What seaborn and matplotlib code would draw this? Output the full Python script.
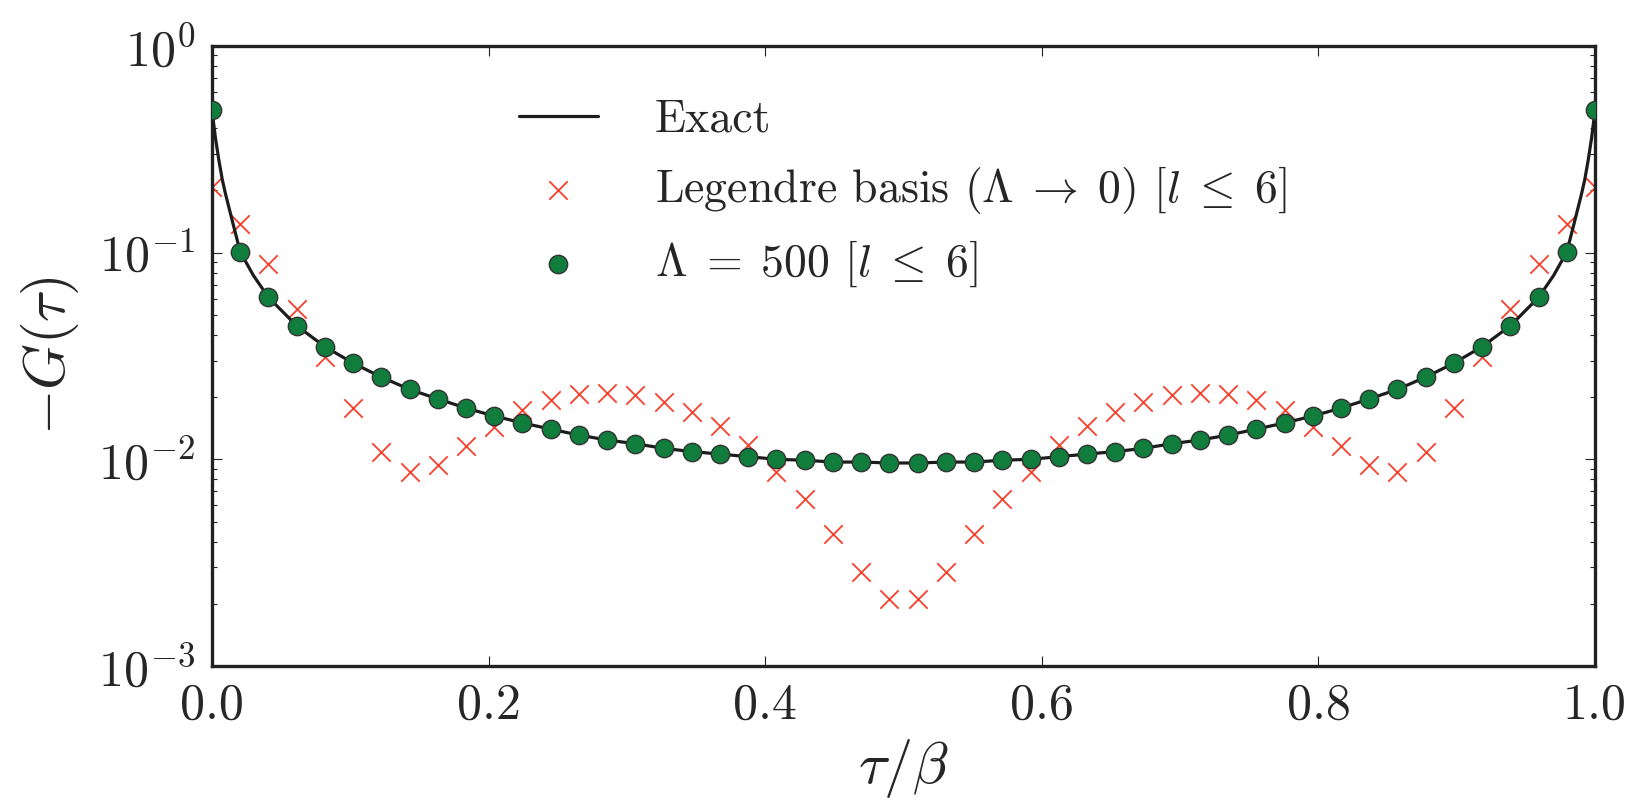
import numpy as np
import pandas as pd
import matplotlib
matplotlib.use("Agg")
import matplotlib.pyplot as plt
import seaborn as sns
from matplotlib.ticker import LogLocator, NullLocator, FixedLocator, FixedFormatter

# ---------------- data ----------------
# sampling grid of tau/beta (50 equally spaced points)
tau = np.linspace(0.0, 1.0, 50)

# -G(tau) for Lambda = 500 [l <= 6]
lam500 = [0.490, 0.101, 0.0608, 0.0443, 0.0351, 0.0292, 0.0250, 0.0218, 0.0196, 0.0177,
          0.0162, 0.0150, 0.0140, 0.0131, 0.0124, 0.0119, 0.0113, 0.0109, 0.0106, 0.0103,
          0.0100, 0.0099, 0.0097, 0.0097, 0.0096,
          0.0096, 0.0097, 0.0097, 0.0099, 0.0100, 0.0103, 0.0106, 0.0109, 0.0113, 0.0119,
          0.0124, 0.0131, 0.0140, 0.0150, 0.0162, 0.0177, 0.0196, 0.0218, 0.0250, 0.0292,
          0.0351, 0.0443, 0.0608, 0.101, 0.490]

# -G(tau) for Legendre basis (Lambda -> 0) [l <= 6]
legendre = [0.209, 0.1377, 0.0879, 0.0536, 0.0314, 0.01767, 0.01089, 0.00872, 0.00940, 0.01164,
            0.01439, 0.01734, 0.01937, 0.02065, 0.02103, 0.0205, 0.0190, 0.0170, 0.01452, 0.01174,
            0.00867, 0.00641, 0.00434, 0.00286, 0.00210,
            0.00210, 0.00286, 0.00434, 0.00641, 0.00867, 0.01174, 0.01452, 0.0170, 0.0190, 0.0205,
            0.02103, 0.02065, 0.01937, 0.01734, 0.01439, 0.01164, 0.00940, 0.00872, 0.01089, 0.01767,
            0.0314, 0.0536, 0.0879, 0.1377, 0.209]

# exact curve: the grid values plus extra samples read near the two edges
exact_edge_tau = [0.0025, 0.005, 0.0075, 0.01, 0.015, 0.03,
                  0.97, 0.985, 0.99, 0.9925, 0.995, 0.9975]
exact_edge_val = [0.36, 0.28, 0.225, 0.19, 0.14, 0.0775,
                  0.0775, 0.14, 0.19, 0.225, 0.28, 0.36]

xticks = [0.0, 0.2, 0.4, 0.6, 0.8, 1.0]
xticklabels = ["0.0", "0.2", "0.4", "0.6", "0.8", "1.0"]

lbl_exact = "Exact"
lbl_leg = r"Legendre basis $(\Lambda \;\rightarrow\; 0)$ $[l \;\leq\; 6]$"
lbl_lam = r"$\Lambda \;=\; 500$ $[l \;\leq\; 6]$"

# ---------------- style ----------------
sns.set_style("ticks")
plt.rcParams["font.family"] = ["cmr10", "DejaVu Serif"]
plt.rcParams["mathtext.fontset"] = "cm"
plt.rcParams["axes.unicode_minus"] = False
plt.rcParams["axes.formatter.use_mathtext"] = True

df_pts = pd.DataFrame({"tau": tau, "lam500": lam500, "legendre": legendre})
df_exact = pd.DataFrame({
    "tau": np.concatenate([tau, exact_edge_tau]),
    "val": np.concatenate([lam500, exact_edge_val]),
}).sort_values("tau")

fig, ax = plt.subplots(figsize=(16.38, 8.10), dpi=100)
fig.subplots_adjust(left=0.1294, right=0.9738, bottom=0.1778, top=0.9432)

red = "#f5402c"
green = "#117d3c"

sns.scatterplot(data=df_pts, x="tau", y="legendre", marker="x", color=red, s=175,
                linewidth=1.3, zorder=2, label=lbl_leg, ax=ax)
sns.lineplot(data=df_exact, x="tau", y="val", color="#1c1c1c", linewidth=2.3,
             estimator=None, sort=True, zorder=3, label=lbl_exact, ax=ax)
sns.scatterplot(data=df_pts, x="tau", y="lam500", marker="o", color=green, s=175,
                edgecolor="#333333", linewidth=1.0, zorder=4, label=lbl_lam, ax=ax)

ax.set_yscale("log")
ax.set_xlim(0, 1)
ax.set_ylim(1e-3, 1)

ax.xaxis.set_major_locator(FixedLocator(xticks))
ax.xaxis.set_major_formatter(FixedFormatter(xticklabels))
ax.xaxis.set_minor_locator(NullLocator())
ax.yaxis.set_major_locator(LogLocator(base=10, numticks=10))
ax.yaxis.set_minor_locator(LogLocator(base=10, subs=np.arange(2, 10), numticks=20))

ax.tick_params(which="both", direction="in", top=True, right=True, color="#222222")
ax.tick_params(which="major", length=7.5, width=0.8, labelsize=36, pad=12)
ax.tick_params(which="minor", length=3.8, width=0.8)

for sp in ax.spines.values():
    sp.set_linewidth(2.4)
    sp.set_color("#222222")

ax.set_xlabel(r"$\tau/\beta$", fontsize=42, labelpad=6)
ax.set_ylabel(r"$-G(\tau)$", fontsize=42, labelpad=12)

handles, labels = ax.get_legend_handles_labels()
order = [labels.index(lbl_exact), labels.index(lbl_leg), labels.index(lbl_lam)]
ax.legend([handles[i] for i in order], [labels[i] for i in order],
          loc="upper left", bbox_to_anchor=(0.222, 0.914), frameon=False,
          fontsize=33, handlelength=1.72, handletextpad=1.24, labelspacing=0.5,
          borderpad=0, borderaxespad=0)

fig.savefig("out.png", dpi=100)
